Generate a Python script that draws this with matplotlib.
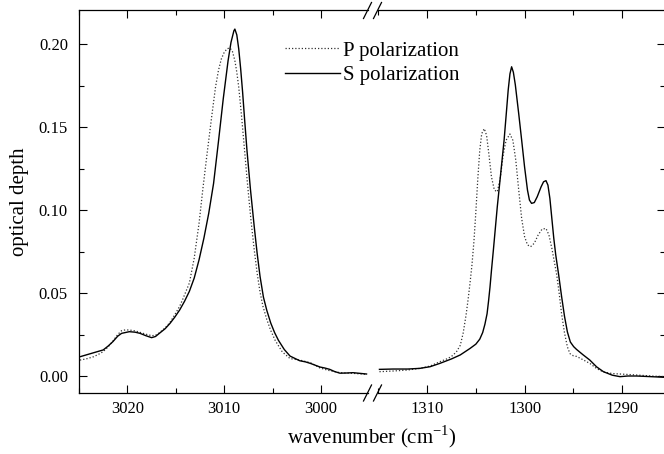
import matplotlib
matplotlib.use("Agg")
import matplotlib.pyplot as plt
from matplotlib.ticker import MultipleLocator

plt.rcParams["font.family"] = ["Liberation Serif", "DejaVu Serif"]
plt.rcParams["mathtext.fontset"] = "custom"
plt.rcParams["mathtext.rm"] = "Liberation Serif"

# C-H stretch region (left panel)
hi_wn_s = [3024.9, 3024.2, 3023.5, 3022.5, 3022.0, 3021.5, 3021.0, 3020.6, 3019.8, 3019.2,
           3018.7, 3018.1, 3017.5, 3017.1, 3016.7, 3016.1, 3015.6, 3015.1, 3014.6, 3014.1,
           3013.6, 3013.1, 3012.6, 3012.1, 3011.6, 3011.1, 3010.6, 3010.1, 3009.6, 3009.3,
           3009.0, 3008.9, 3008.7, 3008.5, 3008.3, 3008.1, 3007.9, 3007.65, 3007.3, 3006.9,
           3006.6, 3006.3, 3005.95, 3005.6, 3005.2, 3004.8, 3004.4, 3003.8, 3003.2, 3002.2,
           3001.6, 3001.1, 3000.6, 3000.1, 2999.6, 2999.1, 2998.6, 2998.05, 2997.4, 2996.7,
           2996.0, 2995.3]
hi_s = [0.0116, 0.0128, 0.0140, 0.0157, 0.0180, 0.0207, 0.0240, 0.0257, 0.0267, 0.0264,
        0.0257, 0.0243, 0.0231, 0.0238, 0.0257, 0.0285, 0.0317, 0.0355, 0.0398, 0.0450,
        0.0510, 0.0590, 0.0700, 0.0830, 0.0980, 0.1160, 0.1410, 0.1670, 0.1900, 0.2010,
        0.2080, 0.2090, 0.2055, 0.1970, 0.1850, 0.1710, 0.1550, 0.1360, 0.1130, 0.0900,
        0.0740, 0.0600, 0.0475, 0.0395, 0.0320, 0.0262, 0.0215, 0.0160, 0.0120, 0.0092,
        0.0085, 0.0076, 0.0065, 0.0054, 0.0048, 0.0040, 0.0027, 0.0017, 0.0018, 0.0020,
        0.0016, 0.0012]

hi_wn_p = [3024.9, 3024.2, 3023.5, 3023.0, 3022.5, 3022.0, 3021.5, 3021.0, 3020.6, 3020.2,
           3019.8, 3019.2, 3018.7, 3018.1, 3017.5, 3017.1, 3016.7, 3016.1, 3015.6, 3015.1,
           3014.6, 3014.3, 3013.6, 3013.1, 3012.6, 3012.2, 3011.77, 3011.3, 3010.9, 3010.6,
           3010.3, 3010.0, 3009.7, 3009.4, 3009.15, 3008.9, 3008.7, 3008.5, 3008.2, 3007.93,
           3007.6, 3007.24, 3006.9, 3006.6, 3006.3, 3006.0, 3005.6, 3005.2, 3004.74, 3004.0,
           3003.2, 3002.2, 3001.1, 3000.6, 3000.1, 2999.1, 2998.05, 2996.7, 2995.3]
hi_p = [0.0096, 0.0104, 0.0116, 0.0130, 0.0147, 0.0175, 0.0210, 0.0250, 0.0273, 0.0278,
        0.0277, 0.0272, 0.0263, 0.0252, 0.0243, 0.0245, 0.0260, 0.0290, 0.0323, 0.0370,
        0.0420, 0.0460, 0.0560, 0.0710, 0.0920, 0.1130, 0.1340, 0.1560, 0.1740, 0.1840,
        0.1910, 0.1950, 0.1972, 0.1976, 0.1955, 0.1900, 0.1830, 0.1740, 0.1560, 0.1380,
        0.1160, 0.0940, 0.0760, 0.0620, 0.0505, 0.0420, 0.0340, 0.0275, 0.0215, 0.0145,
        0.0105, 0.0096, 0.0080, 0.0065, 0.0048, 0.0032, 0.0020, 0.0016, 0.0010]

# CH4 deformation region (right panel)
lo_wn_s = [1314.9, 1313.5, 1312.0, 1310.75, 1309.7, 1308.7, 1307.5, 1306.6, 1305.6, 1305.0,
           1304.6, 1304.3, 1304.07, 1303.85, 1303.7, 1303.55, 1303.4, 1303.2, 1303.0, 1302.8,
           1302.45, 1302.1, 1301.85, 1301.68, 1301.5, 1301.33, 1301.15, 1300.95, 1300.6, 1300.3,
           1300.0, 1299.7, 1299.5, 1299.28, 1299.0, 1298.7, 1298.3, 1298.05, 1297.8, 1297.6,
           1297.4, 1297.2, 1297.0, 1296.8, 1296.5, 1296.2, 1295.9, 1295.6, 1295.3, 1294.96,
           1294.66, 1294.0, 1293.3, 1292.6, 1291.9, 1291.0, 1290.2, 1289.4, 1288.5, 1287.0,
           1285.6]
lo_s = [0.0040, 0.0042, 0.0042, 0.0046, 0.0056, 0.0076, 0.0103, 0.0127, 0.0166, 0.0192,
        0.0222, 0.0262, 0.0312, 0.0375, 0.0450, 0.0535, 0.0635, 0.0760, 0.0890, 0.1020,
        0.1220, 0.1422, 0.1600, 0.1723, 0.1820, 0.1863, 0.1830, 0.1755, 0.1580, 0.1422,
        0.1260, 0.1120, 0.1060, 0.1040, 0.1045, 0.1080, 0.1140, 0.1170, 0.1177, 0.1150,
        0.1070, 0.0950, 0.0830, 0.0730, 0.0610, 0.0480, 0.0360, 0.0265, 0.0205, 0.0177,
        0.0160, 0.0128, 0.0096, 0.0055, 0.0026, 0.0005, -0.0004, 0.0000, 0.0000, -0.0004,
        -0.0008]

lo_wn_p = [1314.9, 1313.5, 1312.0, 1310.75, 1309.7, 1308.7, 1307.9, 1307.5, 1307.0, 1306.6,
           1306.3, 1306.0, 1305.8, 1305.6, 1305.4, 1305.2, 1305.0, 1304.8, 1304.6, 1304.4,
           1304.14, 1303.9, 1303.65, 1303.4, 1303.1, 1302.8, 1302.5, 1302.2, 1301.9, 1301.5,
           1301.2, 1300.9, 1300.6, 1300.3, 1300.0, 1299.7, 1299.38, 1299.0, 1298.6, 1298.2,
           1297.8, 1297.5, 1297.2, 1296.95, 1296.7, 1296.45, 1296.2, 1295.9, 1295.6, 1295.34,
           1295.0, 1294.66, 1294.0, 1293.3, 1292.6, 1291.9, 1291.0, 1290.2, 1289.0, 1288.5,
           1287.0, 1285.6]
lo_p = [0.0026, 0.0030, 0.0036, 0.0046, 0.0060, 0.0086, 0.0105, 0.0118, 0.0145, 0.0185,
        0.0260, 0.0370, 0.0460, 0.0560, 0.0670, 0.0810, 0.0990, 0.1190, 0.1360, 0.1460,
        0.1490, 0.1450, 0.1330, 0.1200, 0.1120, 0.1110, 0.1190, 0.1330, 0.1420, 0.1458,
        0.1420, 0.1300, 0.1120, 0.0950, 0.0840, 0.0790, 0.0779, 0.0800, 0.0850, 0.0885,
        0.0889, 0.0850, 0.0770, 0.0690, 0.0610, 0.0500, 0.0375, 0.0260, 0.0175, 0.0135,
        0.0122, 0.0118, 0.0098, 0.0076, 0.0045, 0.0024, 0.0015, 0.0012, 0.0008, 0.0006,
        0.0000, -0.0004]

W, H = 664, 454
fig = plt.figure(figsize=(W / 100, H / 100), dpi=100)

bot, top = 393, 10.5
x0, xb1, xb2, x1 = 79, 367.5, 377.5, 665
ax1 = fig.add_axes([x0 / W, 1 - bot / H, (xb1 - x0) / W, (bot - top) / H])
ax2 = fig.add_axes([xb2 / W, 1 - bot / H, (x1 - xb2) / W, (bot - top) / H], sharey=ax1)

dot = (0, (1, 1.6))
ax1.plot(hi_wn_p, hi_p, color="0.2", lw=0.9, ls=dot, label="P polarization")
ax1.plot(hi_wn_s, hi_s, color="black", lw=1.0, label="S polarization")
ax2.plot(lo_wn_p, lo_p, color="0.2", lw=0.9, ls=dot)
ax2.plot(lo_wn_s, lo_s, color="black", lw=1.0)

ax1.set_xlim(3025, 2995.2)
ax2.set_xlim(1315.1, 1285.58)
ax1.set_ylim(-0.01024, 0.2202)

for ax in (ax1, ax2):
    ax.xaxis.set_major_locator(MultipleLocator(10))
    ax.xaxis.set_minor_locator(MultipleLocator(5))
    ax.yaxis.set_major_locator(MultipleLocator(0.05))
    ax.yaxis.set_minor_locator(MultipleLocator(0.025))
    ax.tick_params(which="both", direction="in", top=True, width=0.8, labelsize=12, pad=6)
    ax.tick_params(which="major", length=5.5)
    ax.tick_params(which="minor", length=3.5)
    for s in ax.spines.values():
        s.set_linewidth(0.9)

ax1.spines["right"].set_visible(False)
ax2.spines["left"].set_visible(False)
ax1.tick_params(axis="y", which="both", right=False)
ax1.tick_params(axis="y", pad=8)
ax2.tick_params(axis="y", which="both", left=False, right=True, labelleft=False)
ax1.yaxis.set_major_formatter(plt.FormatStrFormatter("%.2f"))

ax1.set_ylabel("optical depth", fontsize=15, labelpad=7)
fig.text(372 / W, 1 - 437 / H, "wavenumber (cm$^{-1}$)", fontsize=15, ha="center", va="center")

# break marks
for xp in (xb1, xb2):
    for yp in (top, bot):
        fig.add_artist(plt.Line2D([(xp - 4) / W, (xp + 4) / W], [1 - (yp + 8) / H, 1 - (yp - 8) / H],
                                  color="black", lw=0.9, transform=fig.transFigure))

fig.legend(loc="upper left", bbox_to_anchor=(285 / W, 1 - 41 / H), frameon=False, fontsize=15,
           handlelength=2.65, handletextpad=0.15, labelspacing=0.25, borderpad=0, borderaxespad=0)

fig.savefig("out.png", dpi=100)
